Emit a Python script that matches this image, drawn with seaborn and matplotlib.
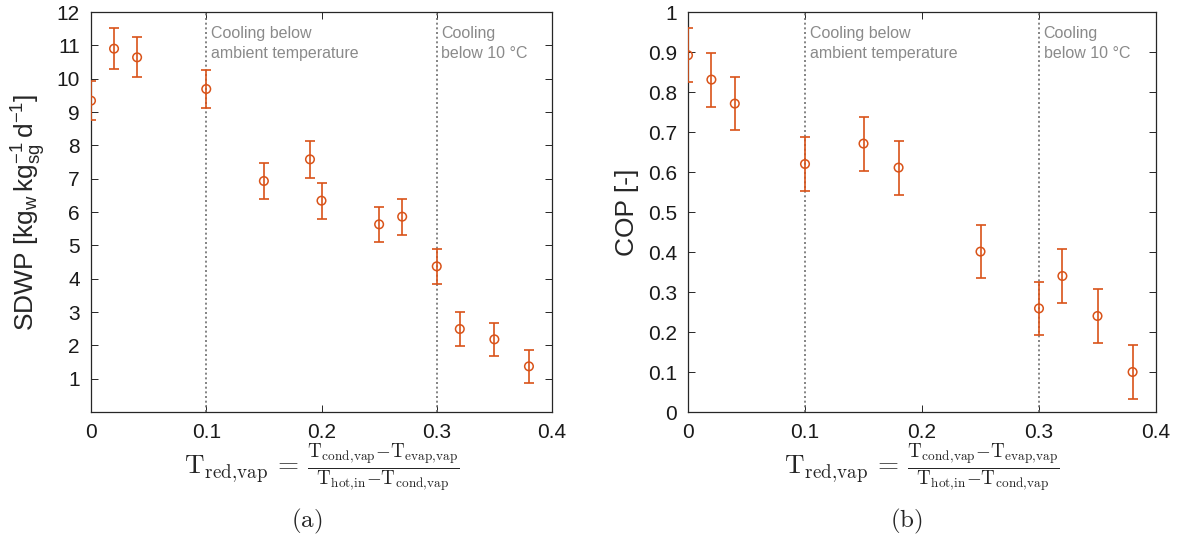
import matplotlib
matplotlib.use("Agg")
import matplotlib.pyplot as plt
import seaborn as sns
import pandas as pd

# ---- data ----
x_sdwp = [0.0, 0.02, 0.04, 0.10, 0.15, 0.19, 0.20, 0.25, 0.27, 0.30, 0.32, 0.35, 0.38]
sdwp = [9.34, 10.90, 10.64, 9.69, 6.93, 7.58, 6.34, 5.63, 5.86, 4.37, 2.49, 2.18, 1.37]
sdwp_err = [0.58, 0.61, 0.60, 0.58, 0.54, 0.55, 0.54, 0.53, 0.535, 0.52, 0.50, 0.505, 0.50]

x_cop = [0.0, 0.02, 0.04, 0.10, 0.15, 0.18, 0.25, 0.30, 0.32, 0.35, 0.38]
cop = [0.892, 0.831, 0.771, 0.620, 0.671, 0.611, 0.401, 0.259, 0.340, 0.240, 0.100]
cop_err = [0.067, 0.0675, 0.067, 0.0675, 0.0675, 0.0675, 0.067, 0.067, 0.0675, 0.067, 0.067]

region_lines = [0.1, 0.3]
region_texts = ["Cooling below\nambient temperature", "Cooling\nbelow 10 °C"]

x_ticks = [0, 0.1, 0.2, 0.3, 0.4]
x_ticklabels = ["0", "0.1", "0.2", "0.3", "0.4"]
sdwp_ticks = list(range(1, 13))
cop_ticks = [i / 10 for i in range(11)]
cop_ticklabels = ["0"] + [f"{v:.1f}" for v in cop_ticks[1:-1]] + ["1"]

xlabel = (r"$\mathrm{T_{red,\!vap}}\,=\,\frac{\mathrm{T_{cond,\!vap}}{-}\mathrm{T_{evap,\!vap}}}"
          r"{\mathrm{T_{hot,\!in}}{-}\mathrm{T_{cond,\!vap}}}$")

# ---- style ----
sns.set_style("ticks")
plt.rcParams["font.family"] = ["Liberation Sans", "DejaVu Sans"]
plt.rcParams.update({
    "mathtext.fontset": "custom",
    "mathtext.rm": "Liberation Sans",
    "mathtext.it": "Liberation Sans:italic",
    "mathtext.bf": "Liberation Sans:bold",
    "xtick.direction": "in",
    "ytick.direction": "in",
    "xtick.top": True,
    "ytick.right": True,
})

ORANGE = "#D95319"
GREY_TXT = "#8a8a8a"
AXC = "#262626"

fig = plt.figure(figsize=(11.79, 5.45), dpi=100)
ax1 = fig.add_axes([91 / 1179, 1 - 412 / 545, 461 / 1179, 400 / 545])
ax2 = fig.add_axes([688 / 1179, 1 - 412 / 545, 468 / 1179, 400 / 545])


def draw(ax, x, y, err, ylim, yticks, yticklabels, ylabel, ytxt):
    df = pd.DataFrame({"x": x, "y": y})
    ax.errorbar(x, y, yerr=err, fmt="none", ecolor=ORANGE, elinewidth=1.2,
                capsize=3.6, capthick=1.2, zorder=3)
    sns.scatterplot(data=df, x="x", y="y", ax=ax, marker="o", s=38,
                    facecolor="none", edgecolor=ORANGE, linewidth=1.1, zorder=4,
                    legend=False)
    for xv, t in zip(region_lines, region_texts):
        ax.axvline(xv, color="#707070", linestyle=(0, (1.2, 1.6)), linewidth=1.2, zorder=2)
        ax.text(xv + 0.004, ytxt, t, color=GREY_TXT, fontsize=11.5, va="top",
                ha="left", linespacing=1.4)
    ax.set_xlim(0, 0.4)
    ax.set_ylim(*ylim)
    ax.set_xticks(x_ticks)
    ax.set_xticklabels(x_ticklabels)
    ax.set_yticks(yticks)
    ax.set_yticklabels(yticklabels)
    ax.tick_params(axis="both", labelsize=15, length=5, width=0.7, color=AXC,
                   labelcolor="#1a1a1a", pad=8)
    for s in ax.spines.values():
        s.set_color(AXC)
        s.set_linewidth(0.9)
    ax.set_xlabel(xlabel, fontsize=19.5, math_fontfamily="cm", labelpad=0)
    ax.set_ylabel(ylabel, fontsize=19, labelpad=6)


draw(ax1, x_sdwp, sdwp, sdwp_err, (0, 12), sdwp_ticks, [str(v) for v in sdwp_ticks],
     r"SDWP [kg$_\mathrm{w}\,$kg$^{-1}_\mathrm{sg}\,$d$^{-1}$]", 11.57)
draw(ax2, x_cop, cop, cop_err, (0, 1), cop_ticks, cop_ticklabels, "COP [-]", 0.964)

fig.text(307 / 1179, 1 - 521 / 545, r"$\mathrm{(a)}$", fontsize=18, math_fontfamily="cm",
         ha="center", va="center")
fig.text(906 / 1179, 1 - 521 / 545, r"$\mathrm{(b)}$", fontsize=18, math_fontfamily="cm",
         ha="center", va="center")

fig.savefig("out.png", dpi=100)
